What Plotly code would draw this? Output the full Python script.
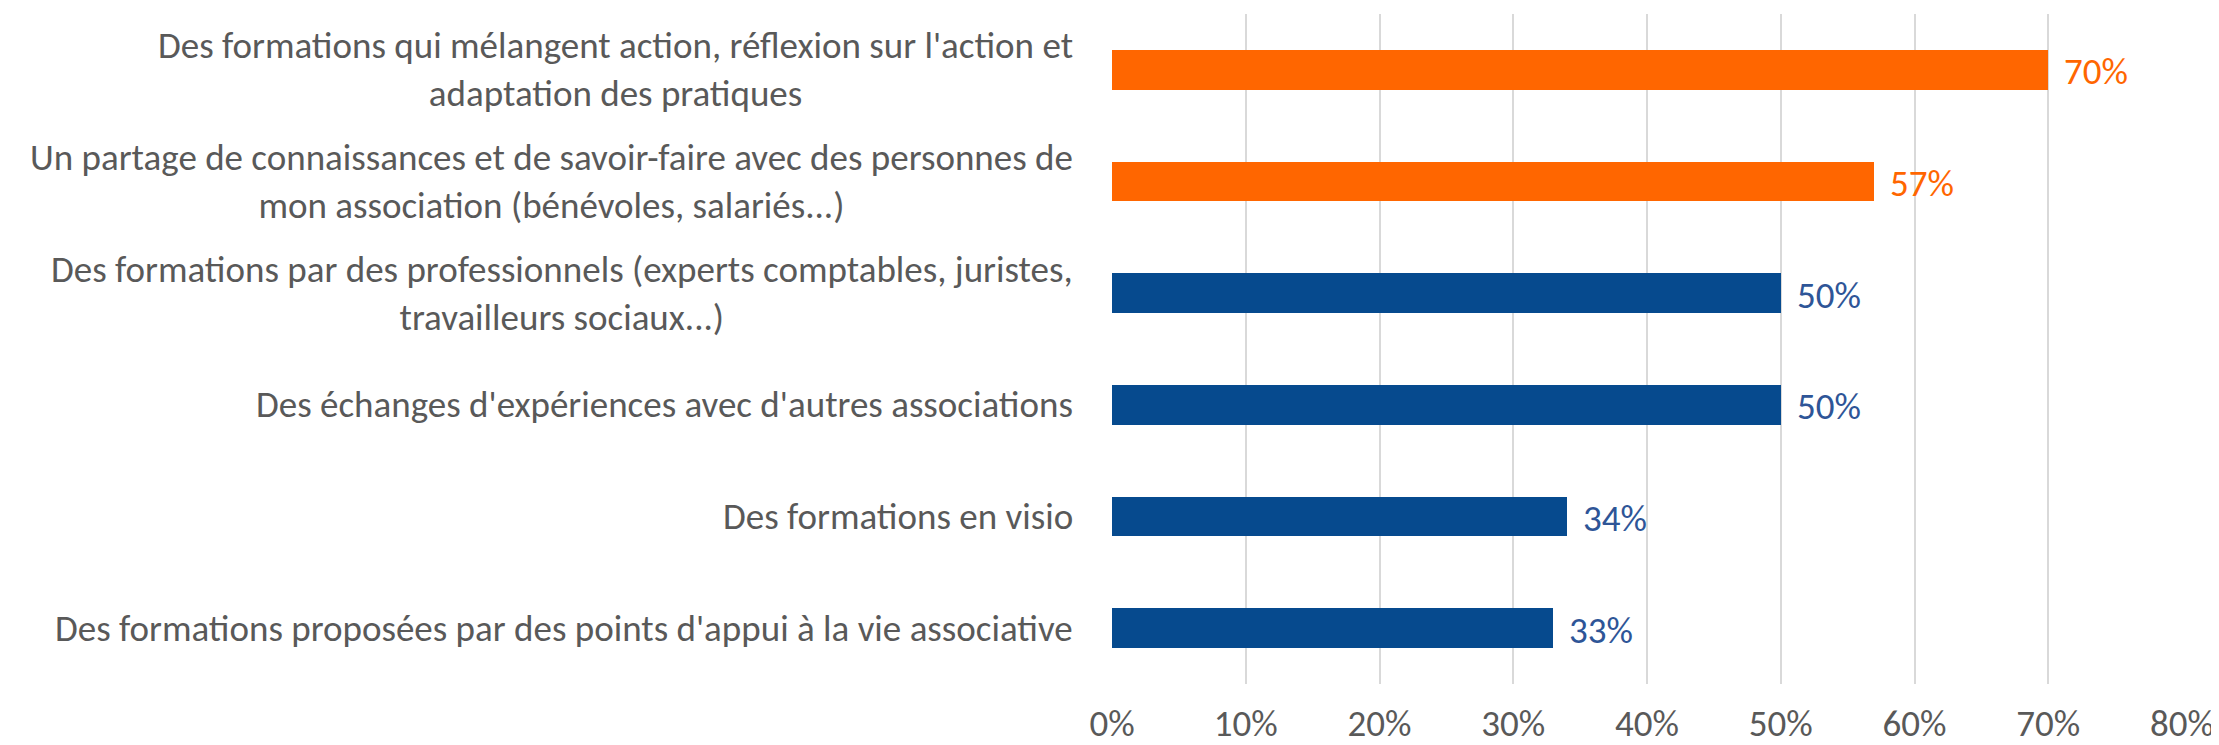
import plotly.graph_objects as go

categories = [
    "Des formations qui mélangent action, réflexion sur l'action et<br>adaptation des pratiques",
    "Un partage de connaissances et de savoir-faire avec des personnes de<br>mon association (bénévoles, salariés...)",
    "Des formations par des professionnels (experts comptables, juristes,<br>travailleurs sociaux...)",
    "Des échanges d'expériences avec d'autres associations",
    "Des formations en visio",
    "Des formations proposées par des points d'appui à la vie associative",
]
values = [0.70, 0.57, 0.50, 0.50, 0.34, 0.33]
groups = ["highlight", "highlight", "other", "other", "other", "other"]
value_labels = ["70%", "57%", "50%", "50%", "34%", "33%"]
x_ticks = [0, 0.1, 0.2, 0.3, 0.4, 0.5, 0.6, 0.7, 0.8]
x_tick_labels = ["0%", "10%", "20%", "30%", "40%", "50%", "60%", "70%", "80%"]

BAR_COLORS = {"highlight": "#FF6600", "other": "#064A8E"}
LABEL_COLORS = {"highlight": "#FF6600", "other": "#2E5597"}
FONT = "Carlito, Calibri, 'Liberation Sans Narrow', 'Arial Narrow', sans-serif"
TEXT_GRAY = "#595959"
FS = 37

ids = list(range(len(categories)))

fig = go.Figure()
fig.add_trace(go.Bar(
    y=ids, x=values, orientation="h",
    marker=dict(color=[BAR_COLORS[g] for g in groups], line=dict(width=0)),
    width=0.358, hoverinfo="skip", showlegend=False,
))

annotations = []
for i, (cat, v, g, lab) in enumerate(zip(categories, values, groups, value_labels)):
    annotations.append(dict(
        x=0, y=i, xref="x", yref="y", text=cat, showarrow=False,
        xanchor="right", yanchor="middle", align="center", xshift=-37,
        font=dict(family=FONT, size=FS, color=TEXT_GRAY),
    ))
    annotations.append(dict(
        x=v, y=i, xref="x", yref="y", text=lab, showarrow=False,
        xanchor="left", yanchor="middle", xshift=14, yshift=-2,
        font=dict(family=FONT, size=FS, color=LABEL_COLORS[g]),
    ))

# The page body adds an 8px offset, so the figure is sized to fill the rest.
fig.update_layout(
    width=2211, height=737, autosize=False,
    margin=dict(l=1104, r=37, t=6, b=61, pad=0, autoexpand=False),
    plot_bgcolor="white", paper_bgcolor="white",
    font=dict(family=FONT, size=FS, color=TEXT_GRAY),
    annotations=annotations,
    bargap=0,
)
fig.update_xaxes(
    range=[0, 0.8], tickvals=x_ticks, ticktext=x_tick_labels,
    showgrid=True, gridcolor="#D9D9D9", gridwidth=2,
    zeroline=False, showline=False, ticks="", automargin=False,
    tickfont=dict(family=FONT, size=FS, color=TEXT_GRAY),
    ticklabelstandoff=14,
)
fig.update_yaxes(
    range=[5.5, -0.5], showticklabels=False, showgrid=False,
    zeroline=False, showline=False, ticks="", automargin=False,
)

fig.write_html("out.html")
